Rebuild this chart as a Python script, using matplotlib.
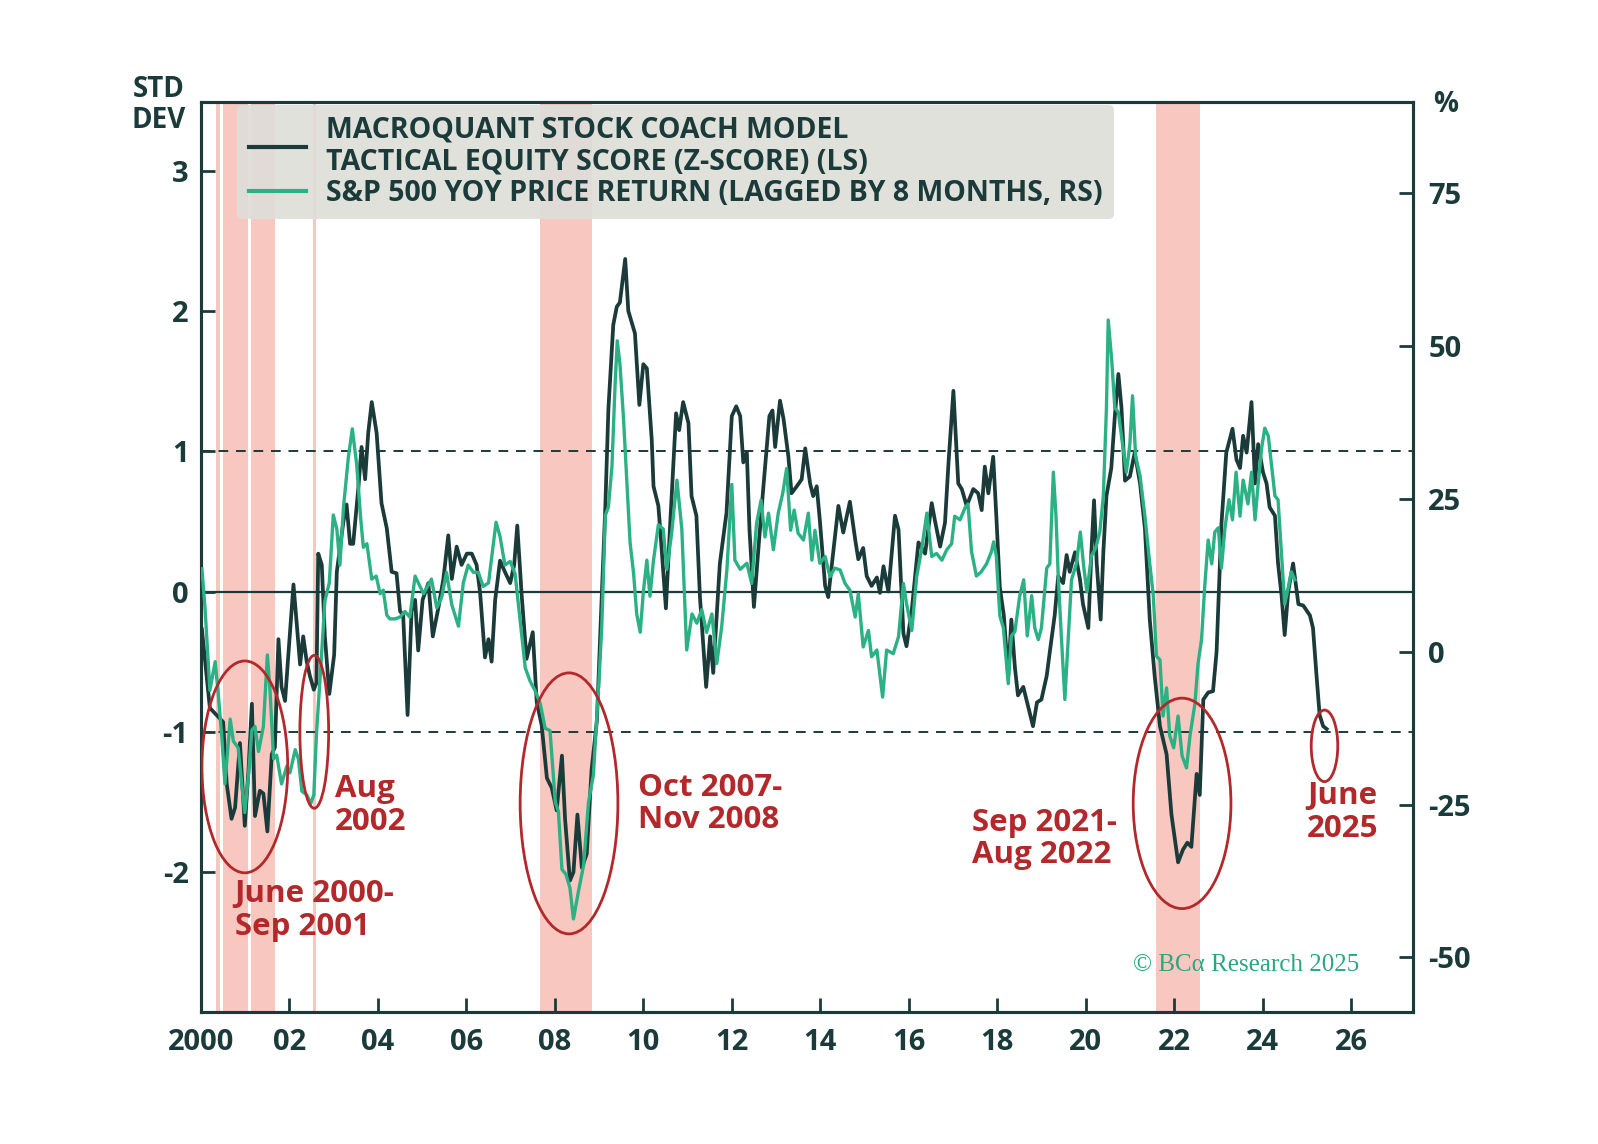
import matplotlib
matplotlib.use("Agg")
import matplotlib.pyplot as plt
from matplotlib.patches import Ellipse
from matplotlib.lines import Line2D

plt.rcParams["font.family"] = ["Open Sans", "DejaVu Sans"]
plt.rcParams["axes.unicode_minus"] = False

# -----------------------------
# Data
# -----------------------------
# tactical equity score (z-score, left scale)
z_years = [
    2000.02, 2000.20, 2000.35, 2000.50, 2000.58, 2000.69, 2000.77, 2000.88, 2000.99, 2001.07,
    2001.15, 2001.22, 2001.33, 2001.41, 2001.50, 2001.60, 2001.67, 2001.75, 2001.82, 2001.90,
    2001.97, 2002.09, 2002.16, 2002.24, 2002.31, 2002.39, 2002.46, 2002.55, 2002.61, 2002.65,
    2002.73, 2002.80, 2002.90, 2003.01, 2003.07, 2003.22, 2003.29, 2003.37, 2003.44, 2003.56,
    2003.63, 2003.71, 2003.78, 2003.86, 2003.97, 2004.08, 2004.20, 2004.31, 2004.42, 2004.50,
    2004.57, 2004.67, 2004.76, 2004.84, 2004.91, 2005.01, 2005.14, 2005.24, 2005.37, 2005.48,
    2005.59, 2005.67, 2005.78, 2005.89, 2006.01, 2006.12, 2006.23, 2006.31, 2006.42, 2006.50,
    2006.57, 2006.65, 2006.76, 2006.87, 2006.99, 2007.08, 2007.15, 2007.25, 2007.36, 2007.50,
    2007.59, 2007.70, 2007.82, 2007.93, 2008.04, 2008.16, 2008.23, 2008.34, 2008.42, 2008.51,
    2008.61, 2008.72, 2008.83, 2008.95, 2009.04, 2009.14, 2009.21, 2009.32, 2009.40, 2009.47,
    2009.59, 2009.66, 2009.81, 2009.91, 2010.00, 2010.08, 2010.19, 2010.23, 2010.34, 2010.41,
    2010.51, 2010.60, 2010.74, 2010.81, 2010.90, 2011.02, 2011.09, 2011.20, 2011.28, 2011.42,
    2011.51, 2011.58, 2011.73, 2011.88, 2012.00, 2012.10, 2012.19, 2012.26, 2012.34, 2012.40,
    2012.50, 2012.60, 2012.71, 2012.85, 2012.92, 2012.98, 2013.09, 2013.17, 2013.28, 2013.35,
    2013.47, 2013.58, 2013.66, 2013.77, 2013.84, 2013.92, 2013.99, 2014.11, 2014.18, 2014.30,
    2014.41, 2014.52, 2014.67, 2014.79, 2014.86, 2014.97, 2015.05, 2015.16, 2015.28, 2015.35,
    2015.43, 2015.54, 2015.69, 2015.77, 2015.88, 2015.95, 2016.07, 2016.22, 2016.37, 2016.52,
    2016.59, 2016.71, 2016.82, 2016.90, 2017.01, 2017.12, 2017.20, 2017.31, 2017.46, 2017.57,
    2017.65, 2017.72, 2017.80, 2017.91, 2017.98, 2018.06, 2018.15, 2018.25, 2018.32, 2018.40,
    2018.47, 2018.59, 2018.70, 2018.81, 2018.90, 2019.00, 2019.12, 2019.19, 2019.30, 2019.38,
    2019.49, 2019.57, 2019.64, 2019.76, 2019.87, 2019.94, 2020.06, 2020.13, 2020.19, 2020.25,
    2020.34, 2020.40, 2020.47, 2020.58, 2020.66, 2020.74, 2020.81, 2020.89, 2021.00, 2021.11,
    2021.23, 2021.34, 2021.45, 2021.56, 2021.68, 2021.83, 2021.94, 2022.09, 2022.20, 2022.30,
    2022.39, 2022.51, 2022.58, 2022.66, 2022.77, 2022.88, 2022.96, 2023.07, 2023.18, 2023.32,
    2023.41, 2023.49, 2023.56, 2023.64, 2023.75, 2023.83, 2023.90, 2024.01, 2024.09, 2024.16,
    2024.28, 2024.35, 2024.43, 2024.50, 2024.58, 2024.69, 2024.81, 2024.92, 2025.07, 2025.14,
    2025.22, 2025.29, 2025.37, 2025.45,
]
z_score = [
    -0.27, -0.83, -0.88, -0.93, -1.37, -1.62, -1.54, -1.08, -1.67, -1.29,
    -0.80, -1.60, -1.42, -1.44, -1.71, -1.16, -1.11, -0.34, -0.68, -0.78,
    -0.47, 0.05, -0.22, -0.52, -0.32, -0.50, -0.60, -0.70, -0.65, 0.27,
    0.19, -0.32, -0.73, -0.45, 0.14, 0.50, 0.62, 0.34, 0.34, 0.75,
    1.03, 0.80, 1.13, 1.35, 1.13, 0.63, 0.45, 0.14, 0.13, -0.14,
    -0.17, -0.88, -0.14, -0.06, -0.42, -0.06, 0.06, -0.32, -0.11, 0.09,
    0.40, 0.09, 0.32, 0.19, 0.27, 0.27, 0.19, -0.01, -0.47, -0.34,
    -0.50, -0.06, 0.22, 0.14, 0.06, 0.19, 0.47, -0.03, -0.48, -0.29,
    -0.79, -0.95, -1.33, -1.40, -1.56, -1.17, -1.62, -2.06, -2.00, -1.59,
    -1.97, -1.87, -1.27, -0.92, -0.19, 0.60, 1.30, 1.90, 2.03, 2.06,
    2.37, 2.00, 1.84, 1.33, 1.62, 1.59, 1.08, 0.75, 0.61, 0.32,
    -0.12, 0.44, 1.27, 1.15, 1.35, 1.20, 0.68, 0.54, -0.04, -0.68,
    -0.32, -0.58, 0.20, 0.56, 1.25, 1.32, 1.25, 0.92, 0.99, 0.44,
    -0.11, 0.30, 0.73, 1.25, 1.29, 1.03, 1.36, 1.23, 0.96, 0.70,
    0.75, 0.80, 1.02, 0.77, 0.68, 0.75, 0.51, 0.04, -0.04, 0.30,
    0.61, 0.42, 0.64, 0.37, 0.23, 0.31, 0.11, 0.04, 0.10, -0.01,
    0.18, 0.00, 0.54, 0.44, -0.30, -0.39, -0.13, 0.35, 0.27, 0.63,
    0.51, 0.32, 0.49, 0.92, 1.43, 0.77, 0.73, 0.61, 0.73, 0.70,
    0.58, 0.89, 0.70, 0.96, 0.54, 0.03, -0.17, -0.60, -0.20, -0.54,
    -0.74, -0.68, -0.82, -0.96, -0.79, -0.77, -0.60, -0.43, -0.17, 0.11,
    0.06, 0.26, 0.14, 0.28, 0.09, -0.09, -0.26, 0.28, 0.65, 0.20,
    -0.20, 0.28, 0.68, 0.88, 1.25, 1.55, 1.31, 0.79, 0.82, 0.99,
    0.77, 0.45, -0.20, -0.60, -0.96, -1.16, -1.59, -1.93, -1.84, -1.79,
    -1.82, -1.30, -1.45, -0.77, -0.72, -0.71, -0.43, 0.48, 0.99, 1.16,
    0.94, 0.88, 1.11, 0.99, 1.35, 0.77, 1.05, 0.85, 0.77, 0.60,
    0.54, 0.20, -0.03, -0.31, 0.00, 0.20, -0.09, -0.10, -0.17, -0.26,
    -0.60, -0.88, -0.96, -0.98,
]

# S&P 500 yoy price return, lagged 8 months (%, right scale)
spx_years = [
    2000.02, 2000.09, 2000.20, 2000.32, 2000.39, 2000.47, 2000.54, 2000.66, 2000.73, 2000.84,
    2000.92, 2000.99, 2001.07, 2001.15, 2001.22, 2001.30, 2001.41, 2001.50, 2001.56, 2001.64,
    2001.71, 2001.82, 2001.94, 2002.01, 2002.13, 2002.20, 2002.28, 2002.39, 2002.48, 2002.55,
    2002.61, 2002.71, 2002.80, 2002.90, 2002.99, 2003.07, 2003.14, 2003.22, 2003.33, 2003.42,
    2003.52, 2003.61, 2003.67, 2003.75, 2003.86, 2003.96, 2004.05, 2004.12, 2004.20, 2004.27,
    2004.39, 2004.50, 2004.61, 2004.72, 2004.84, 2004.95, 2005.03, 2005.12, 2005.21, 2005.33,
    2005.44, 2005.55, 2005.67, 2005.82, 2005.93, 2006.04, 2006.16, 2006.27, 2006.38, 2006.50,
    2006.57, 2006.67, 2006.76, 2006.87, 2006.99, 2007.10, 2007.21, 2007.33, 2007.44, 2007.55,
    2007.67, 2007.78, 2007.89, 2008.01, 2008.08, 2008.16, 2008.25, 2008.34, 2008.42, 2008.53,
    2008.65, 2008.76, 2008.87, 2008.99, 2009.06, 2009.14, 2009.21, 2009.29, 2009.36, 2009.41,
    2009.47, 2009.55, 2009.63, 2009.70, 2009.78, 2009.85, 2009.93, 2010.00, 2010.08, 2010.15,
    2010.23, 2010.34, 2010.45, 2010.53, 2010.64, 2010.76, 2010.87, 2010.98, 2011.10, 2011.21,
    2011.32, 2011.43, 2011.55, 2011.66, 2011.77, 2011.89, 2012.00, 2012.07, 2012.19, 2012.34,
    2012.45, 2012.56, 2012.66, 2012.75, 2012.83, 2012.94, 2013.05, 2013.15, 2013.24, 2013.33,
    2013.41, 2013.50, 2013.62, 2013.73, 2013.81, 2013.88, 2013.99, 2014.11, 2014.22, 2014.33,
    2014.45, 2014.56, 2014.67, 2014.79, 2014.86, 2014.97, 2015.09, 2015.16, 2015.28, 2015.41,
    2015.50, 2015.65, 2015.77, 2015.88, 2015.95, 2016.07, 2016.18, 2016.29, 2016.41, 2016.52,
    2016.63, 2016.75, 2016.86, 2016.97, 2017.04, 2017.16, 2017.27, 2017.34, 2017.42, 2017.53,
    2017.64, 2017.76, 2017.87, 2017.92, 2017.98, 2018.06, 2018.14, 2018.25, 2018.32, 2018.40,
    2018.51, 2018.60, 2018.68, 2018.78, 2018.85, 2018.93, 2019.00, 2019.12, 2019.19, 2019.27,
    2019.33, 2019.38, 2019.45, 2019.53, 2019.61, 2019.68, 2019.79, 2019.88, 2019.96, 2020.03,
    2020.13, 2020.23, 2020.32, 2020.40, 2020.47, 2020.51, 2020.59, 2020.66, 2020.74, 2020.81,
    2020.92, 2021.00, 2021.06, 2021.13, 2021.23, 2021.34, 2021.45, 2021.53, 2021.60, 2021.68,
    2021.75, 2021.83, 2021.90, 2021.99, 2022.09, 2022.18, 2022.28, 2022.36, 2022.47, 2022.54,
    2022.62, 2022.69, 2022.77, 2022.85, 2022.92, 2023.00, 2023.07, 2023.15, 2023.24, 2023.32,
    2023.40, 2023.49, 2023.56, 2023.67, 2023.75, 2023.83, 2023.90, 2023.98, 2024.05, 2024.13,
    2024.20, 2024.28, 2024.35, 2024.43, 2024.50, 2024.58, 2024.65, 2024.73,
]
spx_return = [
    13.6, 7.2, -6.3, -1.6, -6.9, -14.0, -21.6, -11.0, -14.6, -15.7,
    -21.6, -26.3, -20.4, -12.8, -12.2, -16.3, -12.2, -0.5, -6.3, -17.5,
    -16.9, -21.6, -18.7, -19.8, -16.0, -17.5, -22.8, -23.4, -24.8, -23.4,
    -13.4, -2.2, 8.3, 11.3, 22.4, 20.1, 14.2, 23.6, 31.8, 36.5,
    30.6, 21.8, 17.1, 17.7, 11.9, 12.4, 9.5, 10.1, 6.0, 5.4,
    5.4, 5.7, 6.6, 5.7, 12.4, 10.7, 9.5, 10.7, 11.9, 7.2,
    8.9, 13.0, 7.7, 4.2, 11.3, 14.2, 13.0, 13.0, 10.7, 11.3,
    15.4, 21.2, 18.9, 14.2, 14.8, 12.8, 5.4, -2.6, -4.8, -6.3,
    -8.5, -12.5, -12.9, -24.6, -26.1, -35.6, -36.4, -38.6, -43.7, -39.3,
    -34.9, -24.6, -20.2, -5.6, 4.0, 22.3, 23.7, 30.3, 43.5, 50.9,
    47.2, 38.4, 27.4, 17.9, 12.8, 6.2, 3.2, 9.8, 15.0, 9.1,
    15.0, 20.8, 20.1, 13.5, 19.4, 28.1, 20.1, 0.3, 6.2, 4.7,
    6.9, 3.2, 6.2, -1.9, 4.0, 13.5, 27.4, 15.0, 13.5, 14.5,
    11.2, 21.0, 24.8, 18.8, 22.7, 16.7, 22.7, 25.9, 30.0, 19.9,
    23.2, 19.4, 18.3, 22.7, 15.0, 19.9, 14.5, 15.6, 12.3, 13.7,
    13.4, 11.2, 10.1, 5.7, 9.5, 0.8, 3.5, -0.8, 0.3, -7.4,
    0.3, -0.3, 2.5, 11.2, 7.9, 3.5, 12.3, 16.7, 22.7, 15.6,
    16.1, 15.0, 16.7, 17.7, 22.2, 21.6, 23.5, 24.2, 16.4, 12.4,
    13.1, 14.4, 16.4, 18.0, 15.7, 5.9, 3.9, -5.2, 2.6, 3.3,
    9.2, 11.8, 2.6, 9.2, 3.9, 2.0, 3.9, 13.7, 14.4, 29.4,
    22.2, 12.4, 2.6, -7.8, 2.6, 11.8, 14.4, 19.6, 13.7, 9.8,
    15.7, 17.0, 19.6, 25.5, 39.9, 54.3, 47.7, 39.9, 39.2, 35.3,
    29.4, 34.0, 41.9, 32.0, 28.8, 22.2, 14.4, 9.2, -0.7, -1.3,
    -10.5, -5.9, -13.7, -15.7, -10.5, -17.0, -19.0, -13.7, -8.5, -2.0,
    2.0, 10.5, 18.3, 14.4, 19.6, 20.3, 13.7, 20.3, 24.9, 21.6,
    29.4, 22.2, 28.1, 24.2, 29.4, 21.6, 27.5, 33.4, 36.6, 35.3,
    30.7, 25.5, 24.9, 15.7, 7.8, 10.5, 13.1, 11.8,
]

# shaded periods (start, end)
shade_periods = [
    (2000.33, 2000.42), (2000.50, 2001.06), (2001.14, 2001.67),
    (2002.53, 2002.60), (2007.67, 2008.85), (2021.58, 2022.58),
]

# circled episodes: (center year, center z, width in years, height in z)
circles = [
    (2000.99, -1.25, 1.94, 1.51),
    (2002.56, -1.00, 0.65, 1.09),
    (2008.32, -1.51, 2.21, 1.86),
    (2022.18, -1.51, 2.21, 1.50),
    (2025.40, -1.10, 0.60, 0.51),
]
notes = [
    (2000.76, -2.05, "June 2000-\nSep 2001"),
    (2003.02, -1.30, "Aug\n2002"),
    (2009.87, -1.29, "Oct 2007-\nNov 2008"),
    (2017.43, -1.54, "Sep 2021-\nAug 2022"),
    (2025.00, -1.35, "June\n2025"),
]

x_ticks = list(range(2000, 2027, 2))
x_labels = ["2000"] + ["%02d" % (y % 100) for y in x_ticks[1:]]
left_ticks = [-2, -1, 0, 1, 2, 3]
right_ticks = [-50, -25, 0, 25, 50, 75]

# -----------------------------
# Style
# -----------------------------
DARK = "#1b3a3a"
GREEN = "#2bb184"
PINK = "#f8c8c0"
RED = "#b3282b"

fig = plt.figure(figsize=(15.98, 11.44), dpi=100)
ax = fig.add_axes([0.1258, 0.1150, 0.7584, 0.7960])
ax2 = ax.twinx()

for s, e in shade_periods:
    ax.axvspan(s, e, color=PINK, lw=0, zorder=0)

ax.axhline(0, color=DARK, lw=1.6, zorder=1)
ax.axhline(1, color=DARK, lw=1.4, ls=(0, (5, 4)), zorder=1)
ax.axhline(-1, color=DARK, lw=1.4, ls=(0, (5, 4)), zorder=1)

ax.plot(z_years, z_score, color=DARK, lw=2.7, zorder=3)
ax2.plot(spx_years, spx_return, color=GREEN, lw=2.4, zorder=3)

ax.set_xlim(2000, 2027.4)
ax.set_ylim(-3.0, 3.49)
ax2.set_ylim(-59, 90)

ax.set_xticks(x_ticks)
ax.set_xticklabels(x_labels)
ax.set_yticks(left_ticks)
ax.set_yticklabels([str(t) for t in left_ticks])
ax2.set_yticks(right_ticks)
ax2.set_yticklabels([str(t) for t in right_ticks])

for a in (ax, ax2):
    for sp in a.spines.values():
        sp.set_color(DARK)
        sp.set_linewidth(2.2)
ax.tick_params(axis="both", direction="in", length=10, width=2, color=DARK,
               labelcolor=DARK, labelsize=21)
ax.tick_params(axis="x", pad=11)
ax.tick_params(axis="y", pad=9)
ax2.tick_params(axis="y", direction="in", length=10, width=2, color=DARK,
                labelcolor=DARK, labelsize=21, pad=11)
for lab in ax.get_xticklabels() + ax.get_yticklabels() + ax2.get_yticklabels():
    lab.set_fontweight("bold")

# annotations
for cx, cy, w, h in circles:
    ax2.add_patch(Ellipse((cx, cy), w, h, transform=ax.transData, fill=False,
                          edgecolor=RED, lw=2.0, zorder=5))
for nx, ny, txt in notes:
    ax2.text(nx, ny, txt, transform=ax.transData, color=RED, fontsize=22.5,
             fontweight="bold", ha="left", va="top", linespacing=1.12, zorder=6)

# legend
handles = [Line2D([], [], color=DARK, lw=3), Line2D([], [], color=GREEN, lw=3)]
labels = ["MACROQUANT STOCK COACH MODEL\nTACTICAL EQUITY SCORE (Z-SCORE) (LS)",
          "S&P 500 YOY PRICE RETURN (LAGGED BY 8 MONTHS, RS)"]
leg = ax2.legend(handles, labels, loc="upper left", bbox_to_anchor=(0.030, 0.997),
                 borderaxespad=0, frameon=True, fancybox=True, facecolor="#deded9",
                 edgecolor="none", framealpha=0.9, fontsize=20.5, handlelength=2.0,
                 handletextpad=0.7, labelspacing=0.1, borderpad=0.4)
leg.set_zorder(7)
for t in leg.get_texts():
    t.set_color(DARK)
    t.set_fontweight("bold")
    t.set_linespacing(1.1)

ax2.text(0.956, 0.052, "\u00a9 BC\u03b1 Research 2025", transform=ax2.transAxes,
         ha="right", va="center", fontsize=18, color="#2aa77e",
         family=["Liberation Serif", "DejaVu Serif"], zorder=6)

fig.text(159 / 1598, 1 - 105 / 1144, "STD\nDEV", ha="center", va="center",
         fontsize=20, fontweight="bold", color=DARK, linespacing=1.05)
fig.text(1446 / 1598, 1 - 104 / 1144, "%", ha="center", va="center",
         fontsize=20, fontweight="bold", color=DARK)

fig.savefig("out.png", dpi=100, facecolor="white")
